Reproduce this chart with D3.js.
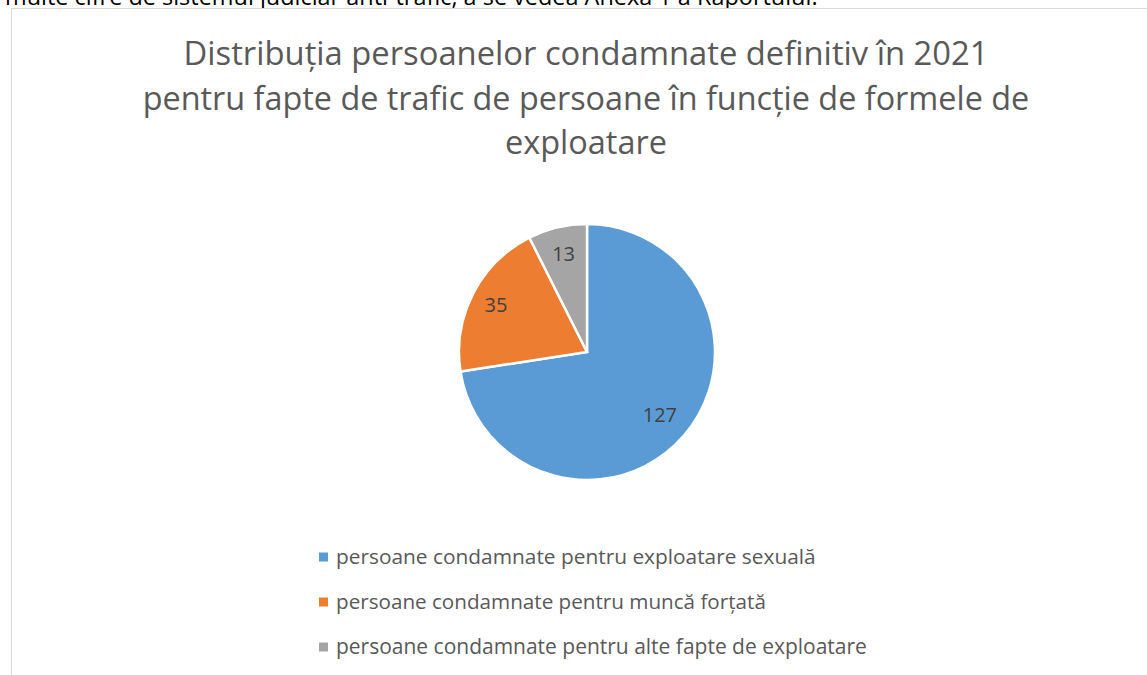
<!DOCTYPE html>
<html>
<head>
<meta charset="utf-8">
<script src="https://cdn.jsdelivr.net/npm/d3@7"></script>
<style>
  html, body { margin: 0; padding: 0; background: #ffffff; }
  svg { display: block; }
</style>
</head>
<body>
<svg id="chart" width="1147" height="675"></svg>
<script>
// ---- data ----
const categories = [
  "persoane condamnate pentru exploatare sexuală",
  "persoane condamnate pentru muncă forțată",
  "persoane condamnate pentru alte fapte de exploatare"
];
const values = [127, 35, 13];
const colors = ["#5b9bd5", "#ed7d31", "#a5a5a5"];
const titleLines = [
  "Distribuția persoanelor condamnate definitiv în 2021",
  "pentru fapte de trafic de persoane în funcție de formele de",
  "exploatare"
];
const topNote = "multe cifre de sistemul judiciar anti-trafic, a se vedea Anexa 1 a Raportului.";

const svg = d3.select("#chart");
const FONT = "'Open Sans', 'Noto Sans', sans-serif";

function fitText(sel, targetWidth) {
  const node = sel.node();
  const fs = parseFloat(sel.attr("font-size"));
  const w = node.getComputedTextLength();
  if (w > 0) sel.attr("font-size", (fs * targetWidth / w).toFixed(2));
}

// partially visible text line above the chart
const note = svg.append("text")
  .attr("x", 5).attr("y", 5)
  .attr("font-family", FONT).attr("font-size", 18)
  .attr("fill", "#000").text(topNote);
fitText(note, 813);

// chart frame
svg.append("rect")
  .attr("x", 11.5).attr("y", 8.5)
  .attr("width", 1147).attr("height", 680)
  .attr("fill", "#ffffff").attr("stroke", "#d9d9d9").attr("stroke-width", 1);

// title
const titleWidths = [805, 887, 162];
const titleBase = [65, 110, 154];
titleLines.forEach((t, i) => {
  const s = svg.append("text")
    .attr("x", 586).attr("y", titleBase[i])
    .attr("text-anchor", "middle")
    .attr("font-family", FONT).attr("font-size", 30)
    .attr("fill", "#595959").text(t);
  fitText(s, titleWidths[i]);
});

// pie
const cx = 587, cy = 352, r = 128;
const pie = d3.pie().sort(null).value(d => d)
  .startAngle(0).endAngle(2 * Math.PI);
const arcs = pie(values);
const arc = d3.arc().innerRadius(0).outerRadius(r);
const g = svg.append("g").attr("transform", `translate(${cx},${cy})`);

g.selectAll("path").data(arcs).enter().append("path")
  .attr("d", arc)
  .attr("fill", (d, i) => colors[i])
  .attr("stroke", "#ffffff").attr("stroke-width", 2.5)
  .attr("stroke-linejoin", "miter");

// data labels
const labelRadius = [0.75, 0.80, 0.79];
g.selectAll("text.lbl").data(arcs).enter().append("text")
  .attr("class", "lbl")
  .attr("transform", (d, i) => {
    const a = (d.startAngle + d.endAngle) / 2;
    const rr = r * labelRadius[i];
    return `translate(${Math.sin(a) * rr},${-Math.cos(a) * rr})`;
  })
  .attr("text-anchor", "middle")
  .attr("dy", "0.36em")
  .attr("font-family", FONT).attr("font-size", 20)
  .attr("fill", "#404040")
  .text(d => d.data);

// legend
const legY = d3.scalePoint().domain(categories).range([557, 647]);
const leg = svg.append("g");
categories.forEach((c, i) => {
  const y = legY(c);
  leg.append("rect")
    .attr("x", 319).attr("y", y - 4.5)
    .attr("width", 9).attr("height", 9)
    .attr("fill", colors[i]);
  leg.append("text")
    .attr("x", 336).attr("y", y)
    .attr("dy", "0.35em")
    .attr("font-family", FONT).attr("font-size", 18)
    .attr("fill", "#595959").text(c);
});
const legWidths = [480, 430, 531];
leg.selectAll("text").each(function(d, i) { fitText(d3.select(this), legWidths[i]); });
</script>
</body>
</html>
